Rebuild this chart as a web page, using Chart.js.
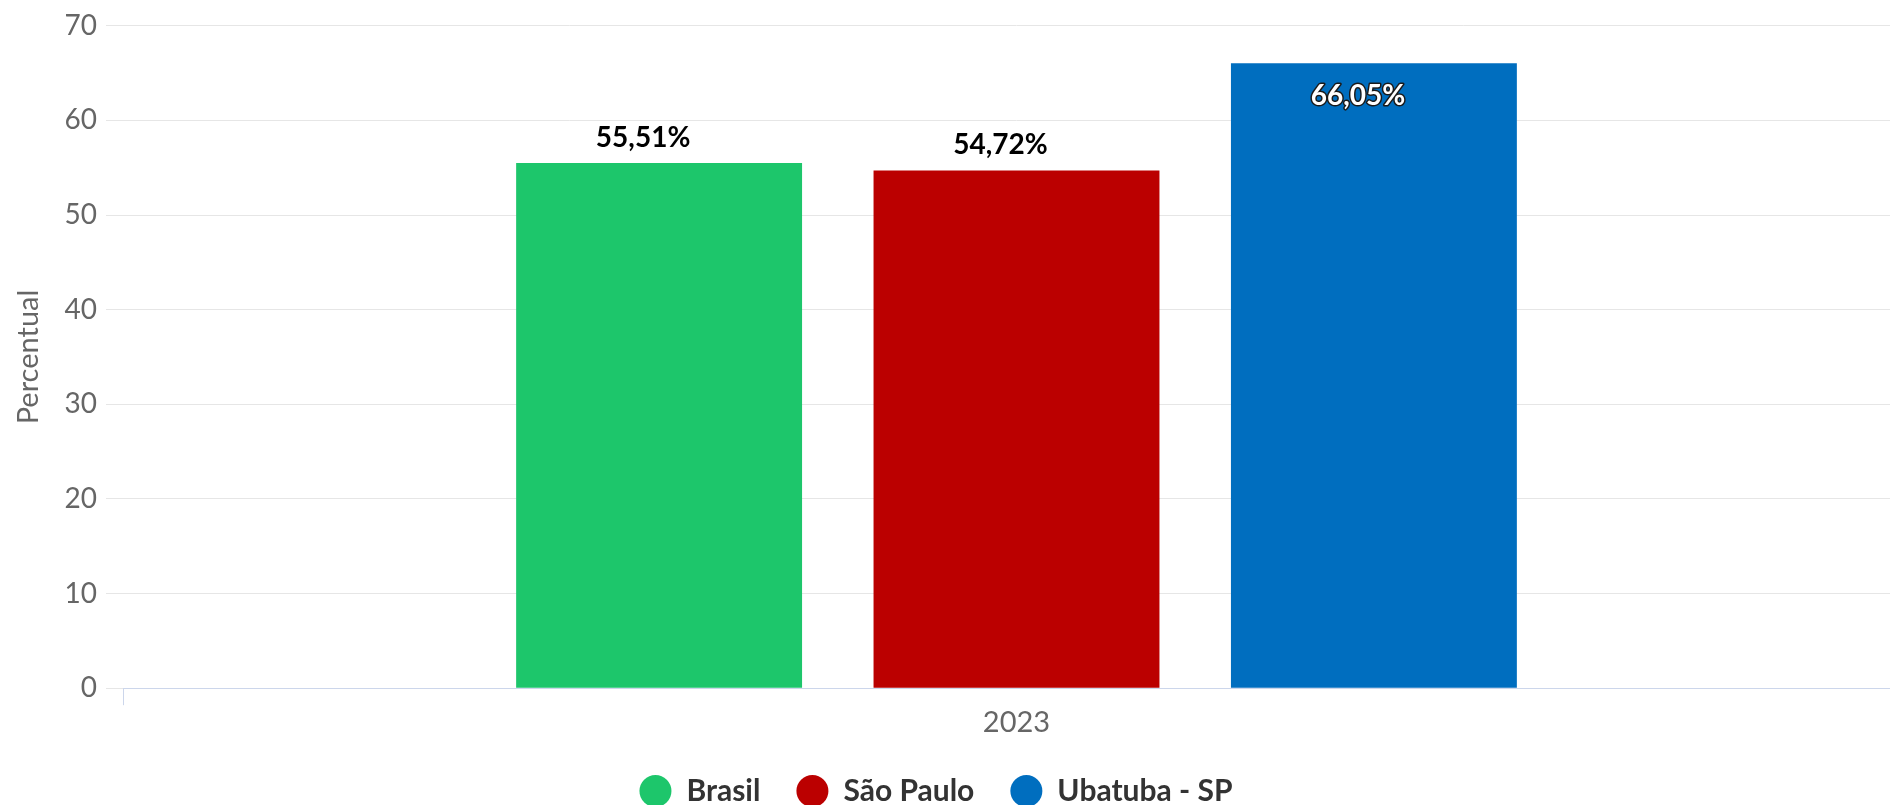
<!DOCTYPE html>
<html>
<head>
<meta charset="utf-8">
<script src="https://cdn.jsdelivr.net/npm/chart.js@4.4.1/dist/chart.umd.min.js"></script>
<style>
  html, body { margin: 0; padding: 0; background: #fff; overflow: hidden; }
  #wrap { width: 1890px; height: 805px; overflow: hidden; }
</style>
</head>
<body>
<div id="wrap"><canvas id="chart" width="1910" height="805"></canvas></div>
<script>
const years = ['2023'];
const brasil = [55.51];
const saoPaulo = [54.72];
const ubatuba = [66.05];
const seriesNames = ['Brasil', 'São Paulo', 'Ubatuba - SP'];
const seriesColors = ['#1dc66b', '#bb0000', '#006ebf'];

const FONT = 'Lato, "Open Sans", sans-serif';

const fmt = v => v.toFixed(2).replace('.', ',') + '%';

// value labels drawn over / inside the bars
const valueLabels = {
  id: 'valueLabels',
  afterDatasetsDraw(chart) {
    const ctx = chart.ctx;
    const top = chart.chartArea.top;
    ctx.save();
    ctx.font = 'bold 28px ' + FONT;
    ctx.textAlign = 'center';
    ctx.textBaseline = 'middle';
    ctx.lineJoin = 'round';
    chart.data.datasets.forEach((ds, i) => {
      chart.getDatasetMeta(i).data.forEach((bar, j) => {
        const text = fmt(ds.data[j]);
        const x = bar.x - 16;
        if (bar.y - 50 < top) {
          const y = bar.y + 33;
          ctx.lineWidth = 3;
          ctx.strokeStyle = '#1a1a1a';
          ctx.strokeText(text, x, y);
          ctx.fillStyle = '#ffffff';
          ctx.fillText(text, x, y);
        } else {
          const y = bar.y - 25;
          ctx.lineWidth = 4;
          ctx.strokeStyle = '#ffffff';
          ctx.strokeText(text, x, y);
          ctx.fillStyle = '#000000';
          ctx.fillText(text, x, y);
        }
      });
    });
    ctx.restore();
  }
};

// legend sits a little left of the canvas centre in the original
const legendShift = {
  id: 'legendShift',
  afterLayout(chart) {
    chart.legend.left -= 19;
    chart.legend.right -= 19;
  }
};

new Chart(document.getElementById('chart'), {
  type: 'bar',
  data: {
    labels: years,
    datasets: [
      { label: seriesNames[0], data: brasil, backgroundColor: seriesColors[0], borderWidth: 0 },
      { label: seriesNames[1], data: saoPaulo, backgroundColor: seriesColors[1], borderWidth: 0 },
      { label: seriesNames[2], data: ubatuba, backgroundColor: seriesColors[2], borderWidth: 0 }
    ]
  },
  options: {
    responsive: false,
    animation: false,
    datasets: { bar: { categoryPercentage: 0.6, barPercentage: 0.8 } },
    layout: { padding: { top: 8, bottom: -11 } },
    plugins: {
      tooltip: { enabled: false },
      legend: {
        position: 'bottom',
        labels: {
          usePointStyle: true,
          pointStyle: 'circle',
          boxHeight: 22.6,
          pointStyleWidth: 32,
          padding: 36,
          color: '#333333',
          font: { family: FONT, size: 30, weight: 'bold' }
        }
      }
    },
    scales: {
      x: {
        grid: { display: true, drawOnChartArea: false, tickLength: 17, color: '#ccd6eb' },
        border: { color: '#ccd6eb', width: 1 },
        ticks: { color: '#666666', padding: 0, font: { family: FONT, size: 29 } }
      },
      y: {
        min: 0,
        max: 70,
        afterFit: s => { s.width = 123; },
        ticks: { stepSize: 10, color: '#666666', padding: 9, font: { family: FONT, size: 28 } },
        grid: { color: '#e6e6e6', tickLength: 17 },
        border: { display: false },
        title: {
          display: true,
          text: 'Percentual',
          color: '#666666',
          padding: { top: 11, bottom: 0 },
          font: { family: FONT, size: 29 }
        }
      }
    }
  },
  plugins: [valueLabels, legendShift]
});
</script>
</body>
</html>
